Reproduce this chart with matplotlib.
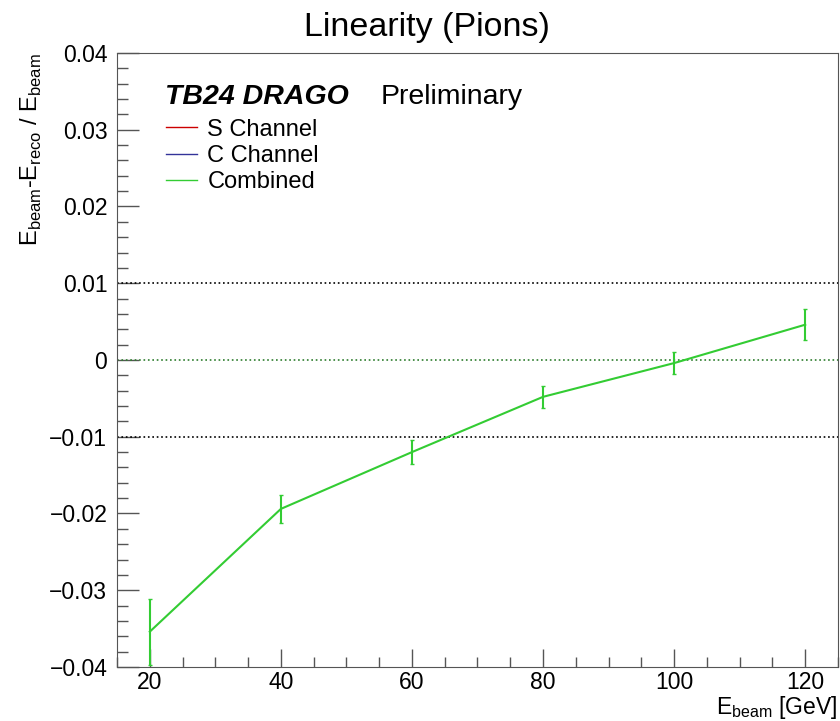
import numpy as np
import matplotlib.pyplot as plt
from matplotlib.ticker import MultipleLocator

# beam energies and linearity for combined channel
energy = [20, 40, 60, 80, 100, 120]
linearity = [-0.0354, -0.0194, -0.0120, -0.0048, -0.0004, 0.0046]
lin_err = [0.0043, 0.0018, 0.0016, 0.0014, 0.0014, 0.0020]
ytick_vals = [-0.04, -0.03, -0.02, -0.01, 0.0, 0.01, 0.02, 0.03, 0.04]
ytick_labels = ['\u22120.04', '\u22120.03', '\u22120.02', '\u22120.01', '0',
                '0.01', '0.02', '0.03', '0.04']

plt.rcParams['font.family'] = ['Liberation Sans', 'DejaVu Sans']

fig = plt.figure(figsize=(8.4, 7.21), dpi=100)
ax = fig.add_axes([0.1393, 0.0749, 0.8583, 0.8516])

green = '#33cc33'
# reference lines
ax.axhline(0.01, color='black', linestyle=':', linewidth=1.2)
ax.axhline(-0.01, color='black', linestyle=':', linewidth=1.2)
ax.axhline(0.0, color='#2e7d2e', linestyle=':', linewidth=1.2)

ax.errorbar(energy, linearity, yerr=lin_err, color=green, linewidth=1.5,
            elinewidth=1.5, capsize=1.5, capthick=1.0)

# legend entries (S and C channels have no drawn points)
ax.plot([], [], color='#cc0000', linewidth=1, label='S Channel')
ax.plot([], [], color='#333399', linewidth=1, label='C Channel')
ax.plot([], [], color=green, linewidth=1, label='Combined')
ax.legend(loc='upper left', bbox_to_anchor=(0.068, 0.893), frameon=False,
          fontsize=17, handlelength=1.3, handletextpad=0.45, labelspacing=0.18,
          borderpad=0, borderaxespad=0)

ax.text(0.066, 0.928, 'TB24 DRAGO', transform=ax.transAxes, fontsize=20.5,
        fontweight='bold', style='italic', va='center')
ax.text(0.366, 0.928, 'Preliminary', transform=ax.transAxes, fontsize=20.5,
        va='center')

ax.set_xlim(15, 125)
ax.set_ylim(-0.04, 0.04)
ax.xaxis.set_major_locator(MultipleLocator(20))
ax.xaxis.set_minor_locator(MultipleLocator(5))
ax.yaxis.set_minor_locator(MultipleLocator(0.002))
ax.set_yticks(ytick_vals)
ax.set_yticklabels(ytick_labels)
ax.tick_params(which='major', direction='in', width=1, labelsize=16.5,
               color='#555555', pad=7)
ax.tick_params(axis='x', which='major', length=13, pad=3)
ax.tick_params(axis='y', which='major', length=16)
ax.tick_params(axis='x', which='minor', direction='in', length=7, width=1, color='#555555')
ax.tick_params(axis='y', which='minor', direction='in', length=8, width=1, color='#555555')
for s in ax.spines.values():
    s.set_color('#555555')

fig.text(0.508, 0.962, 'Linearity (Pions)', fontsize=24.5, ha='center', va='center')
# x label placed by hand so the subscript stays inside the figure
fig.text(0.997, 0.0095, r'E$_{\mathregular{beam}}$ [GeV]', fontsize=16.5,
         ha='right', va='baseline')
ax.set_ylabel(r'E$_{\mathregular{beam}}$-E$_{\mathregular{reco}}$ / E$_{\mathregular{beam}}$',
              fontsize=17, loc='top', labelpad=4)

fig.savefig('out.png', dpi=100)
